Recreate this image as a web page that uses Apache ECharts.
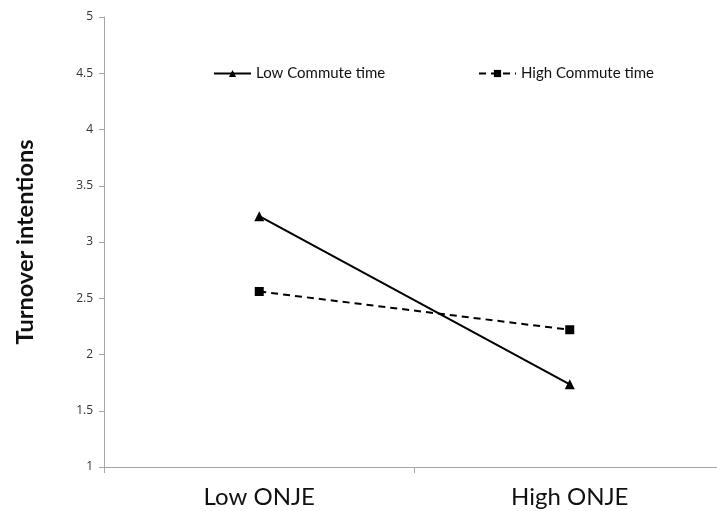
<!DOCTYPE html>
<html>
<head>
<meta charset="utf-8">
<script src="https://cdn.jsdelivr.net/npm/echarts@6/dist/echarts.min.js"></script>
<style>
html,body{margin:0;padding:0;background:#fff;}
#c{width:717px;height:511px;}
</style>
</head>
<body>
<div id="c"></div>
<script>
const categories = ["Low ONJE", "High ONJE"];
const seriesNames = ["Low Commute time", "High Commute time"];
const lowCommute = [3.23, 1.735];
const highCommute = [2.56, 2.22];
const yTicks = [1, 1.5, 2, 2.5, 3, 3.5, 4, 4.5, 5];

const chart = echarts.init(document.getElementById('c'), null, {renderer: 'canvas'});
const FONT = 'Lato, "Open Sans", sans-serif';
chart.setOption({
  animation: false,
  backgroundColor: '#ffffff',
  grid: {left: 104, top: 17, bottom: 44, width: 621, containLabel: false, outerBoundsMode: 'none'},
  legend: [
    {
      data: [seriesNames[0]], left: 213, top: 66, padding: 0, itemWidth: 37, itemHeight: 9, itemGap: 5,
      textStyle: {fontFamily: FONT, fontSize: 15, color: '#111'}
    },
    {
      data: [seriesNames[1]], left: 478, top: 66, padding: 0, itemWidth: 37, itemHeight: 9, itemGap: 5,
      textStyle: {fontFamily: FONT, fontSize: 15, color: '#111'}
    }
  ],
  xAxis: {
    type: 'category',
    data: categories,
    boundaryGap: true,
    axisLine: {lineStyle: {color: '#a6a6a6', width: 1}},
    axisTick: {show: true, length: 6, lineStyle: {color: '#a6a6a6'}},
    axisLabel: {fontFamily: FONT, fontSize: 24, color: '#111', margin: 18}
  },
  yAxis: {
    type: 'value',
    min: yTicks[0],
    max: yTicks[yTicks.length - 1],
    interval: 0.5,
    splitLine: {show: false},
    axisLine: {show: true, lineStyle: {color: '#a6a6a6', width: 1}},
    axisTick: {show: true, length: 5, lineStyle: {color: '#a6a6a6'}},
    axisLabel: {fontFamily: '"Open Sans", sans-serif', fontSize: 12, color: '#333', margin: 11},
    name: 'Turnover intentions',
    nameLocation: 'middle',
    nameGap: 67,
    nameRotate: 90,
    nameTextStyle: {fontFamily: FONT, fontSize: 23.5, fontWeight: 'bold', color: '#111'}
  },
  series: [
    {
      name: seriesNames[0],
      type: 'line',
      data: lowCommute,
      symbol: 'triangle',
      symbolSize: 10,
      itemStyle: {color: '#000'},
      lineStyle: {color: '#000', width: 2, type: 'solid'}
    },
    {
      name: seriesNames[1],
      type: 'line',
      data: highCommute,
      symbol: 'rect',
      symbolSize: 9,
      itemStyle: {color: '#000'},
      lineStyle: {color: '#000', width: 2, type: [7, 5]}
    }
  ]
});
</script>
</body>
</html>
